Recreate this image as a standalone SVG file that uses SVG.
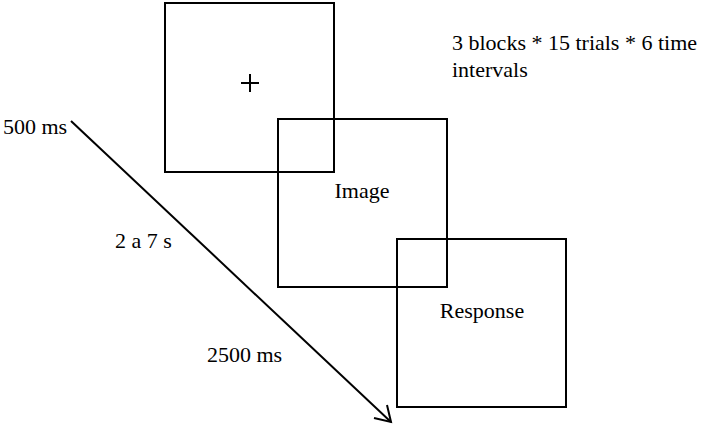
<svg xmlns="http://www.w3.org/2000/svg" width="711" height="427" viewBox="0 0 711 427">
<style>
.box{fill:none;stroke:#000;stroke-width:2}
text{font-family:"Liberation Serif","Times New Roman",serif;font-size:22px;fill:#000}
.c{text-anchor:middle}
.ln{stroke:#000;stroke-width:2;fill:none}
</style>
<rect width="711" height="427" fill="#fff"/>
<g id="fixation">
<rect class="box" x="165" y="3" width="169" height="169"/>
<path class="ln" d="M241 83H259M250 74V92" stroke-width="1.5"/>
</g>
<g id="image">
<rect class="box" x="278" y="119" width="169" height="168"/>
<text class="c" x="362" y="198">Image</text>
</g>
<g id="response">
<rect class="box" x="397" y="239" width="169" height="168"/>
<text class="c" x="482" y="318">Response</text>
</g>
<g id="connectors">
<path class="ln" d="M71 121L391 422"/>
<path class="ln" d="M374 418L391 422L387 405"/>
</g>
<g id="labels">
<text x="3" y="134">500 ms</text>
<text x="115" y="248">2 a 7 s</text>
<text x="207" y="362">2500 ms</text>
<text x="452" y="50">3 blocks * 15 trials * 6 time</text>
<text x="452" y="77">intervals</text>
</g>
</svg>
